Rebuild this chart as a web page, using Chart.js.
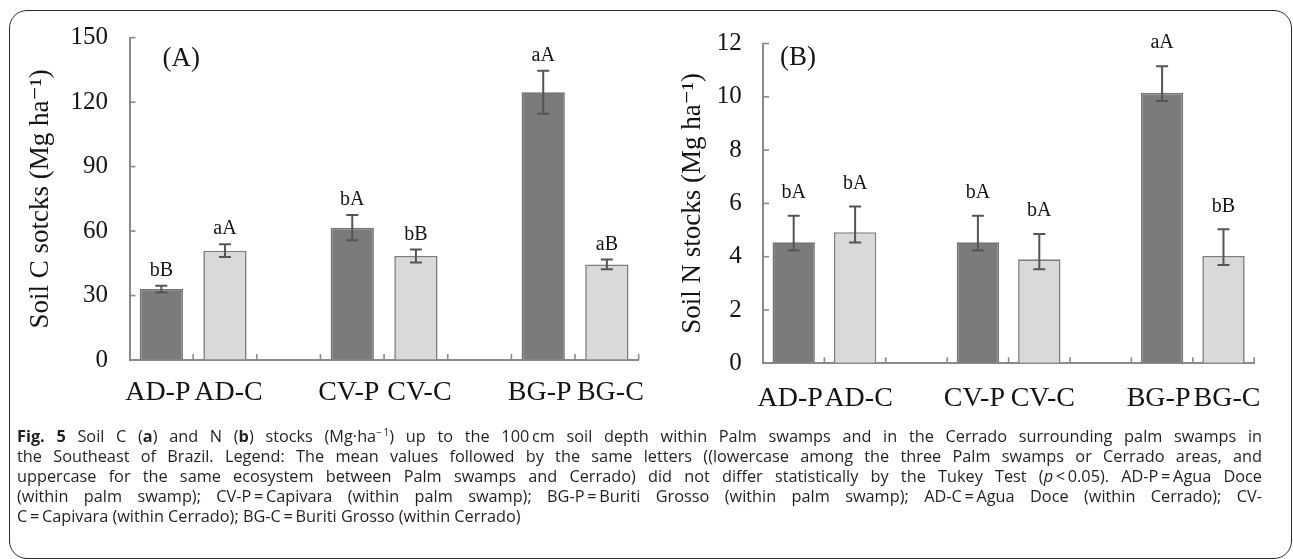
<!DOCTYPE html>
<html><head><meta charset="utf-8">
<script src="https://cdn.jsdelivr.net/npm/chart.js@4.4.1/dist/chart.umd.min.js"></script>
<style>
html,body{margin:0;padding:0;background:#fff;}
body{width:1293px;height:559px;position:relative;overflow:hidden;}
#frame{position:absolute;left:9px;top:10px;width:1283px;height:549px;border:1.6px solid #2b2b2b;border-radius:18px;box-sizing:border-box;}
canvas{position:absolute;top:0;}
#ca{left:0;}
#cb{left:640px;}
#cap{position:absolute;left:17px;top:426px;font-family:'Open Sans',sans-serif;font-size:16.3px;line-height:20px;color:#231f20;}
#cap .ln{display:block;white-space:nowrap;transform-origin:left center;}
#cap sup{font-size:10px;line-height:0;}
</style>
</head><body>
<div id="frame"></div>
<canvas id="ca" width="660" height="440"></canvas>
<canvas id="cb" width="640" height="440"></canvas>
<div id="cap">
<span class="ln fit"><b>Fig. 5</b> Soil C (<b>a</b>) and N (<b>b</b>) stocks (Mg·ha<sup>−&#8201;1</sup>) up to the 100&#8201;cm soil depth within Palm swamps and in the Cerrado surrounding palm swamps in</span>
<span class="ln fit">the Southeast of Brazil. Legend: The mean values followed by the same letters ((lowercase among the three Palm swamps or Cerrado areas, and</span>
<span class="ln fit">uppercase for the same ecosystem between Palm swamps and Cerrado) did not differ statistically by the Tukey Test (<i>p</i>&#8201;&lt;&#8201;0.05). AD-P&#8201;=&#8201;Agua Doce</span>
<span class="ln fit">(within palm swamp); CV-P&#8201;=&#8201;Capivara (within palm swamp); BG-P&#8201;=&#8201;Buriti Grosso (within palm swamp); AD-C&#8201;=&#8201;Agua Doce (within Cerrado); CV-</span>
<span class="ln">C&#8201;=&#8201;Capivara (within Cerrado); BG-C&#8201;=&#8201;Buriti Grosso (within Cerrado)</span>
</div>
<script>
// ---------- data ----------
const categories = ['AD-P', 'AD-C', '', 'CV-P', 'CV-C', '', 'BG-P', 'BG-C'];
const carbonMeans = [33.0, 50.9, null, 61.6, 48.4, null, 124.6, 44.5];
const carbonErrUp = [1.6, 3.0, null, 5.9, 3.0, null, 10.0, 2.3];
const carbonErrDown = [1.6, 3.0, null, 5.9, 3.0, null, 10.0, 2.3];
const carbonLetters = ['bB', 'aA', '', 'bA', 'bB', '', 'aA', 'aB'];
const nitrogenMeans = [4.54, 4.92, null, 4.54, 3.90, null, 10.15, 4.03];
const nitrogenErrUp = [1.0, 0.96, null, 1.0, 0.95, null, 1.0, 1.0];
const nitrogenErrDown = [0.31, 0.39, null, 0.31, 0.37, null, 0.31, 0.34];
const nitrogenLetters = ['bA', 'bA', '', 'bA', 'bA', '', 'aA', 'bB'];
const carbonTickStep = 30, carbonMax = 150;
const nitrogenTickStep = 2, nitrogenMax = 12;

// ---------- caption fitting ----------
const capTarget = 1245;
document.querySelectorAll('#cap .fit').forEach(el => {
  el.style.display = 'inline-block';
  const w = el.getBoundingClientRect().width;
  const spaces = (el.textContent.match(/ /g) || []).length;
  if (w < capTarget && spaces) {
    el.style.wordSpacing = ((capTarget - w) / spaces) + 'px';
  } else if (w > capTarget) {
    el.style.transform = 'scaleX(' + (capTarget / w) + ')';
  }
  el.style.display = 'block';
});

// ---------- chart ----------
const SERIF = "'Liberation Serif','DejaVu Serif',serif";
const TXT = '#141414';
const AXIS = '#8a8a8a';
const DARK = '#7b7b7b', LIGHT = '#d9d9d9';
const GAP = '\u2005';

const decor = {
  id: 'decor',
  afterDatasetsDraw(chart, args, o) {
    const {ctx, chartArea: a, scales: {x, y}} = chart;
    const meta = chart.getDatasetMeta(0);
    ctx.save();
    // inward tick marks
    ctx.strokeStyle = AXIS; ctx.lineWidth = 1.6;
    y.ticks.forEach(t => {
      const py = y.getPixelForValue(t.value);
      ctx.beginPath(); ctx.moveTo(a.left, py); ctx.lineTo(a.left + 6, py); ctx.stroke();
    });
    const half = (x.getPixelForValue(1) - x.getPixelForValue(0)) / 2;
    for (let i = 0; i < categories.length; i++) {
      const px = x.getPixelForValue(i) + half;
      ctx.beginPath(); ctx.moveTo(px, a.bottom); ctx.lineTo(px, a.bottom - 6); ctx.stroke();
    }
    // error bars + letters
    ctx.strokeStyle = '#555'; ctx.lineWidth = 2;
    ctx.fillStyle = TXT;
    ctx.font = '20px ' + SERIF;
    ctx.textAlign = 'center'; ctx.textBaseline = 'middle';
    o.means.forEach((m, i) => {
      if (m === null) return;
      const px = meta.data[i].x;
      const top = y.getPixelForValue(m + o.up[i]);
      const bot = y.getPixelForValue(m - o.down[i]);
      ctx.beginPath();
      ctx.moveTo(px, top); ctx.lineTo(px, bot);
      ctx.moveTo(px - 6, top); ctx.lineTo(px + 6, top);
      ctx.moveTo(px - 6, bot); ctx.lineTo(px + 6, bot);
      ctx.stroke();
      ctx.fillText(o.letters[i], px, top - o.gap);
    });
    // panel tag
    ctx.font = '27px ' + SERIF;
    ctx.textAlign = 'left';
    ctx.fillText(o.tag, a.left + o.tagDx, a.top + o.tagDy);
    ctx.restore();
  }
};

function makeChart(id, cfg) {
  return new Chart(document.getElementById(id), {
    type: 'bar',
    data: {
      labels: categories,
      datasets: [{
        data: cfg.means,
        backgroundColor: categories.map(c => c.endsWith('-P') ? DARK : LIGHT),
        borderColor: categories.map(c => c.endsWith('-P') ? '#747474' : '#7d7d7d'),
        borderWidth: 1.6,
        categoryPercentage: 1,
        barPercentage: cfg.barPct
      }]
    },
    options: {
      responsive: false,
      animation: false,
      events: [],
      layout: {padding: {left: 0, top: cfg.padTop, right: cfg.padRight, bottom: 0}},
      plugins: {legend: {display: false}, tooltip: {enabled: false},
        decor: {means: cfg.means, up: cfg.up, down: cfg.down, letters: cfg.letters, gap: cfg.gap,
                tag: cfg.tag, tagDx: cfg.tagDx, tagDy: cfg.tagDy}},
      scales: {
        x: {
          grid: {drawOnChartArea: false, drawTicks: false, offset: true},
          border: {color: AXIS, width: 2},
          ticks: {autoSkip: false, maxRotation: 0, minRotation: 0, padding: cfg.xPad, color: TXT,
                  font: {family: SERIF, size: 28},
                  callback(v, i) {
                    const c = categories[i];
                    if (c.endsWith('-P')) return c + GAP;
                    if (c.endsWith('-C')) return GAP + c;
                    return c;
                  }},
          afterFit(s) { s.height = cfg.xHeight; }
        },
        y: {
          min: 0, max: cfg.max,
          grid: {drawOnChartArea: false, drawTicks: false},
          border: {color: AXIS, width: 2},
          ticks: {stepSize: cfg.step, padding: cfg.yPad, color: TXT, font: {family: SERIF, size: 25}},
          title: {display: true, text: cfg.title, color: TXT, font: {family: SERIF, size: 27},
                  padding: {top: cfg.titlePad, bottom: 0}},
          afterFit(s) { s.width = cfg.yWidth; }
        }
      }
    },
    plugins: [decor]
  });
}

makeChart('ca', {
  means: carbonMeans, up: carbonErrUp, down: carbonErrDown, letters: carbonLetters,
  max: carbonMax, step: carbonTickStep, title: 'Soil C sotcks (Mg ha\u207B\u00B9)',
  barPct: 0.68, padTop: 37.7, padRight: 11, xHeight: 80, xPad: 15.5, yPad: 21.5,
  yWidth: 129.5, titlePad: 25, gap: 15, tag: '(A)', tagDx: 33, tagDy: 21
});
makeChart('cb', {
  means: nitrogenMeans, up: nitrogenErrUp, down: nitrogenErrDown, letters: nitrogenLetters,
  max: nitrogenMax, step: nitrogenTickStep, title: 'Soil N stocks (Mg ha\u207B\u00B9)',
  barPct: 0.69, padTop: 43.5, padRight: 17, xHeight: 76.7, xPad: 18.5, yPad: 21.3,
  yWidth: 123, titlePad: 37, gap: 23, tag: '(B)', tagDx: 17, tagDy: 14
});
</script>
</body></html>
